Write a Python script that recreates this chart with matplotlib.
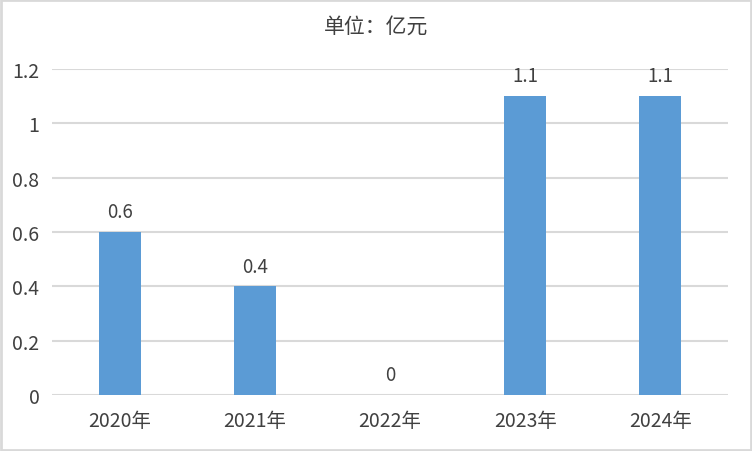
import matplotlib
matplotlib.use("Agg")
import matplotlib.pyplot as plt
from matplotlib.patches import Rectangle

plt.rcParams['font.family'] = ['Noto Sans CJK SC', 'DejaVu Sans']

# datos
anios = ['2020年', '2021年', '2022年', '2023年', '2024年']
valores = [0.6, 0.4, 0, 1.1, 1.1]
etiquetas = ['0.6', '0.4', '0', '1.1', '1.1']
yticks = [0, 0.2, 0.4, 0.6, 0.8, 1, 1.2]
ytick_labels = ['0', '0.2', '0.4', '0.6', '0.8', '1', '1.2']

color_barra = '#5B9BD5'
color_texto = '#404040'

fig = plt.figure(figsize=(7.52, 4.52), dpi=100)
ax = fig.add_axes([0.0691, 0.1239, 0.899, 0.7212])

x = list(range(len(anios)))
barras = ax.bar(x, valores, width=0.31, color=color_barra, zorder=3)

for xi, v, t in zip(x, valores, etiquetas):
    ax.annotate(t, (xi, v), xytext=(0, 7), textcoords='offset points',
                ha='center', va='bottom', fontsize=13.5, color=color_texto)

ax.set_xlim(-0.5, len(anios) - 0.5)
ax.set_ylim(0, 1.2)
ax.set_yticks(yticks)
ax.set_yticklabels(ytick_labels)
ax.set_xticks(x)
ax.set_xticklabels(anios)
ax.tick_params(axis='both', length=0, labelsize=14, colors=color_texto)
ax.tick_params(axis='y', pad=9)
ax.tick_params(axis='x', pad=11)

ax.grid(axis='y', color='#D9D9D9', linewidth=1.5, zorder=0)
for s in ax.spines.values():
    s.set_visible(False)

fig.text(0.5, 0.94, '单位：亿元', ha='center', va='center',
         fontsize=15, color=color_texto)

# marco de la figura
fig.patches.append(Rectangle((0.0015, 0.0025), 0.997, 0.995, transform=fig.transFigure,
                             fill=False, edgecolor='#D9D9D9', linewidth=2))

fig.savefig('out.png', dpi=100)
